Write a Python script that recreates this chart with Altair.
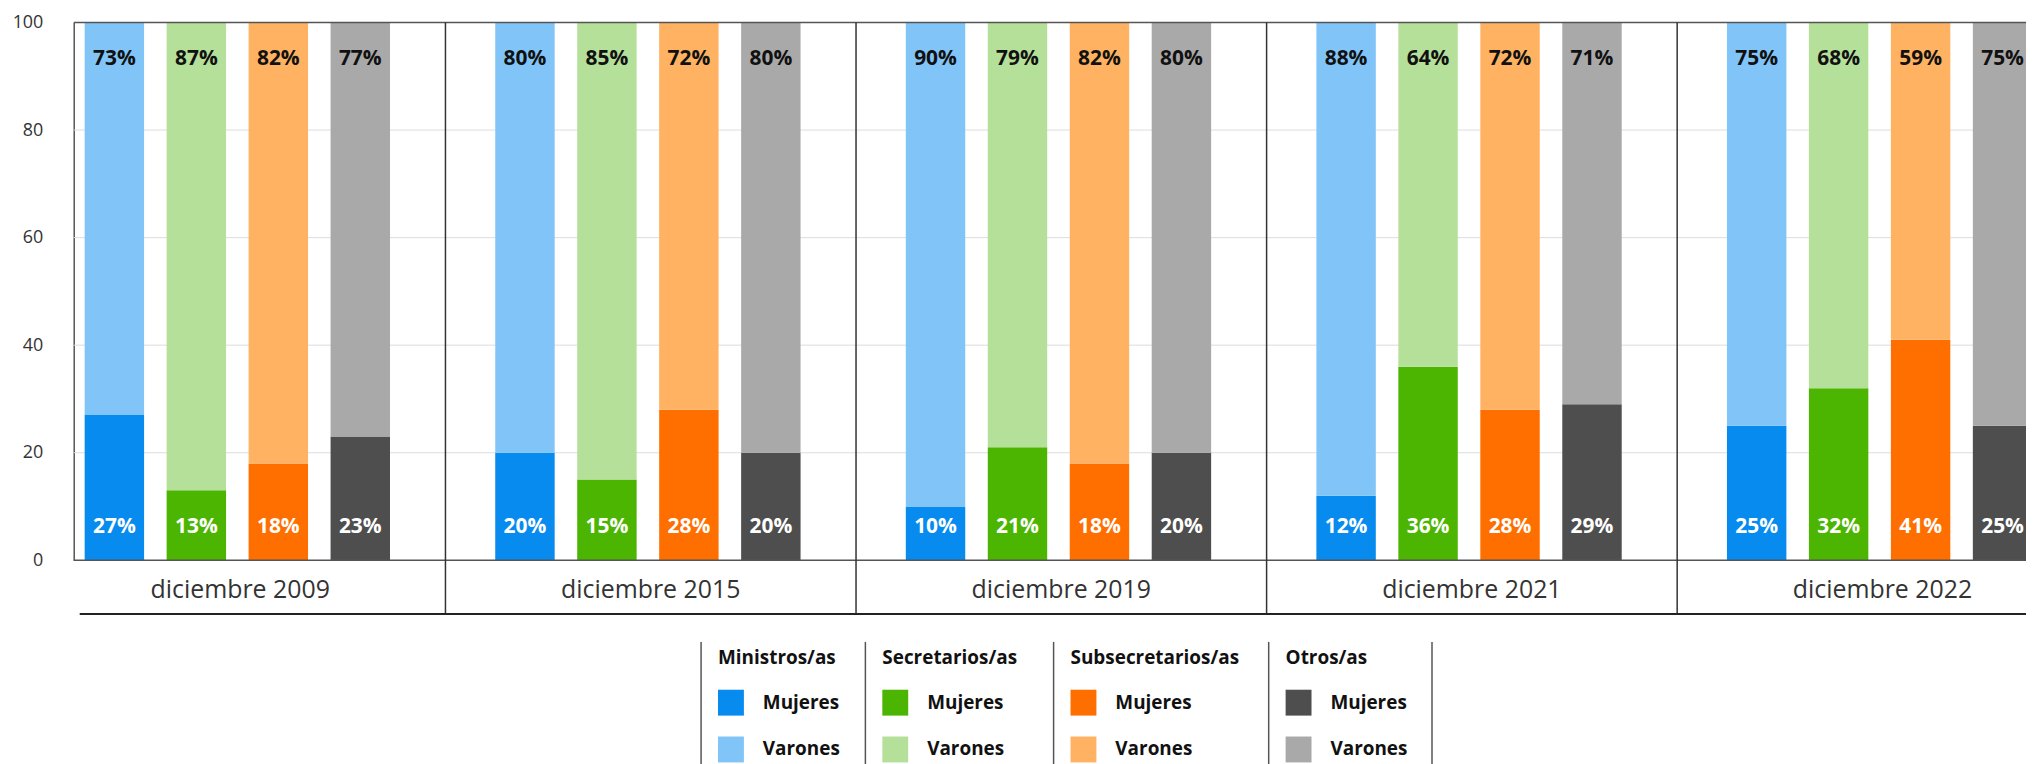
import altair as alt
import pandas as pd

# ---------------- data ----------------
periods = ["diciembre 2009", "diciembre 2015", "diciembre 2019", "diciembre 2021", "diciembre 2022"]
cargos = ["Ministros/as", "Secretarios/as", "Subsecretarios/as", "Otros/as"]
sexos = ["Mujeres", "Varones"]

ministros_mujeres = [27, 20, 10, 12, 25]
ministros_varones = [73, 80, 90, 88, 75]
secretarios_mujeres = [13, 15, 21, 36, 32]
secretarios_varones = [87, 85, 79, 64, 68]
subsecretarios_mujeres = [18, 28, 18, 28, 41]
subsecretarios_varones = [82, 72, 82, 72, 59]
otros_mujeres = [23, 20, 20, 29, 25]
otros_varones = [77, 80, 80, 71, 75]

mujeres_colors = ["#078BEF", "#4BB501", "#FF6F00", "#4E4E4E"]
varones_colors = ["#81C5F8", "#B5E09A", "#FFB262", "#A9A9A9"]

y_ticks = [0, 20, 40, 60, 80, 100]
grid_lines = [20, 40, 60, 80]
frame_lines = [0, 100]

# ---------------- tables ----------------
series = {
    ("Ministros/as", "Mujeres"): ministros_mujeres,
    ("Ministros/as", "Varones"): ministros_varones,
    ("Secretarios/as", "Mujeres"): secretarios_mujeres,
    ("Secretarios/as", "Varones"): secretarios_varones,
    ("Subsecretarios/as", "Mujeres"): subsecretarios_mujeres,
    ("Subsecretarios/as", "Varones"): subsecretarios_varones,
    ("Otros/as", "Mujeres"): otros_mujeres,
    ("Otros/as", "Varones"): otros_varones,
}
rows = []
for (cargo, sexo), vals in series.items():
    for p, v in zip(periods, vals):
        rows.append({
            "period": p, "cargo": cargo, "sexo": sexo, "value": v,
            "order": sexos.index(sexo), "label": f"{v}%",
        })
df = pd.DataFrame(rows)

# ---------------- layout / style ----------------
FONT = "Open Sans"
W, H = 2061.5, 540
AX = 39              # distance from the first group's start to the y axis
LEG_TOP = 622        # top of the legend block (below the plot)
LEG_SEPS = [669, 834, 1023, 1239, 1403]   # legend column separators (px)

x_enc = alt.X(
    "period:N", sort=periods,
    scale=alt.Scale(paddingInner=0, paddingOuter=0),
    axis=alt.Axis(title=None, labelFontSize=25, labelFont=FONT, labelColor="#333333",
                  ticks=False, domain=False, grid=False, labelAngle=0, labelLimit=500,
                  labelBaseline="middle", labelPadding=29),
)
xoff_enc = alt.XOffset("cargo:N", sort=cargos,
                       scale=alt.Scale(paddingInner=0.275, paddingOuter=0.642, align=0.473))

y_axis = alt.Axis(
    values=y_ticks, title=None, labelFontSize=18, labelFont=FONT, labelColor="#333333",
    ticks=False, domain=True, domainColor="#555555", domainWidth=1.5, labelPadding=31,
    grid=False, offset=-AX,
)
y_enc = alt.Y("value:Q", stack="zero", scale=alt.Scale(domain=[0, 100], nice=False), axis=y_axis)


def cargo_legend(i, c):
    return alt.Legend(
        title=c, orient="none", legendX=LEG_SEPS[i] + 17, legendY=LEG_TOP + 7,
        direction="vertical", padding=0,
        titleFont=FONT, titleFontSize=19, titleFontWeight="bold", titleColor="#111111",
        titlePadding=22, titleLimit=300,
        labelFont=FONT, labelFontSize=19, labelFontWeight="bold", labelColor="#111111",
        labelOffset=19, labelLimit=300,
        symbolType="square", symbolSize=676, symbolStrokeWidth=0, symbolOpacity=1,
        rowPadding=21,
    )


bar_layers = []
for i, (c, cm, cv) in enumerate(zip(cargos, mujeres_colors, varones_colors)):
    bar_layers.append(
        alt.Chart(df).transform_filter(f"datum.cargo === '{c}'").mark_bar().encode(
            x=x_enc,
            xOffset=xoff_enc,
            y=y_enc,
            color=alt.Color("sexo:N", scale=alt.Scale(domain=sexos, range=[cm, cv]),
                            legend=cargo_legend(i, c)),
            order=alt.Order("order:Q"),
        )
    )

lab_m = alt.Chart(df).transform_filter("datum.sexo === 'Mujeres'").mark_text(
    font=FONT, fontWeight="bold", fontSize=21, color="white", baseline="middle"
).encode(
    x=alt.X("period:N", sort=periods),
    xOffset=alt.XOffset("cargo:N", sort=cargos),
    y=alt.datum(6.1),
    text="label:N",
)

lab_v = alt.Chart(df).transform_filter("datum.sexo === 'Varones'").mark_text(
    font=FONT, fontWeight="bold", fontSize=21, color="#111111", baseline="middle"
).encode(
    x=alt.X("period:N", sort=periods),
    xOffset=alt.XOffset("cargo:N", sort=cargos),
    y=alt.datum(93.3),
    text="label:N",
)

grid = alt.Chart(pd.DataFrame({"v": grid_lines})).mark_rule(
    color="#dddddd", strokeWidth=1
).encode(
    y="v:Q", x=alt.value(AX), x2=alt.value(W),
)

frame = alt.Chart(pd.DataFrame({"v": frame_lines})).mark_rule(
    color="#555555", strokeWidth=1.5
).encode(
    y="v:Q", x=alt.value(AX), x2=alt.value(W),
)

seps = alt.Chart(pd.DataFrame({"period": periods[1:]})).mark_rule(
    color="#333333", strokeWidth=1.5
).encode(
    x=alt.X("period:N", sort=periods, bandPosition=0),
    y=alt.value(0),
    y2=alt.value(H + 54),
)

bottom_line = alt.Chart(pd.DataFrame({"k": [0]})).mark_rule(
    color="#222222", strokeWidth=2
).encode(
    x=alt.value(AX + 6), x2=alt.value(W), y=alt.value(H + 54),
)

legend_seps = [
    alt.Chart(pd.DataFrame({"k": [0]})).mark_rule(color="#555555", strokeWidth=1.5).encode(
        x=alt.value(px), y=alt.value(LEG_TOP), y2=alt.value(LEG_TOP + 160),
    )
    for px in LEG_SEPS
]

chart = alt.layer(
    grid, *bar_layers, lab_m, lab_v, frame, seps, bottom_line, *legend_seps
).resolve_scale(
    color="independent"
).properties(
    width=W, height=H,
    autosize=alt.AutoSizeParams(type="none"),
    padding={"left": 27, "top": 13, "right": -62, "bottom": 203},
    background="white",
).configure_view(stroke=None)

chart.save("out.html", embed_options={"renderer": "svg", "actions": False})
